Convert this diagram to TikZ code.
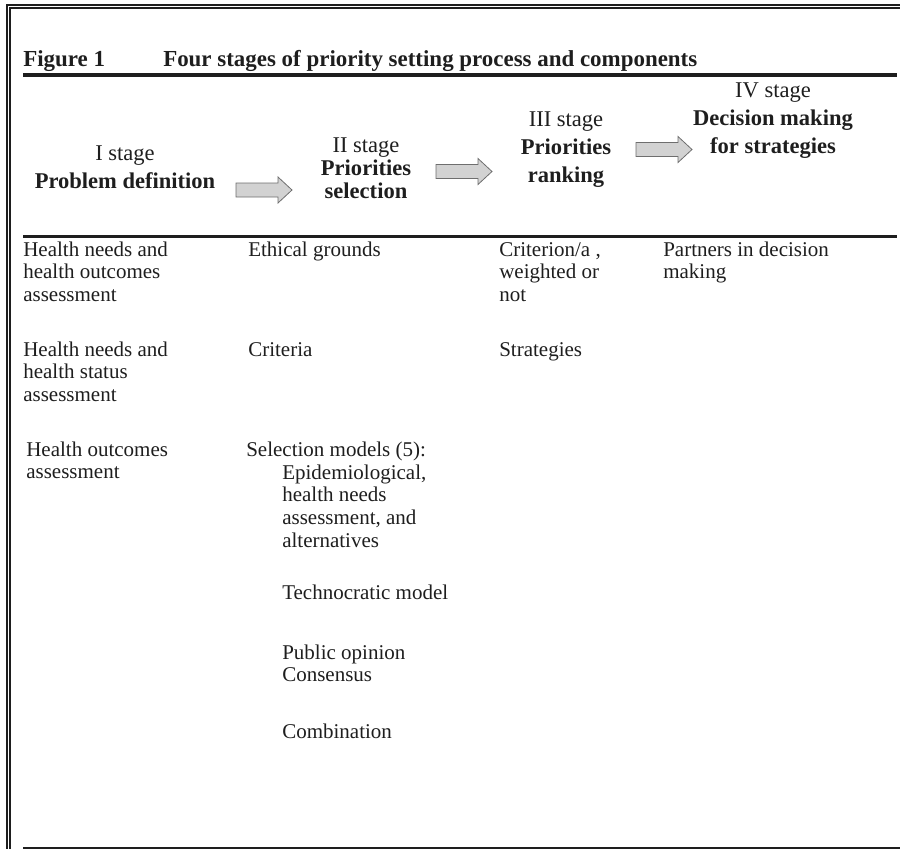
\documentclass[tikz,border=0pt]{standalone}
\usepackage{fontspec}
\setmainfont{Liberation Serif}
\definecolor{ink}{HTML}{1E1E1E}
\definecolor{arrowfill}{HTML}{D2D2D2}
\definecolor{arrowline}{HTML}{6E6E6E}
\begin{document}
% multi-line nodes are placed by the baseline of their last line
\begin{tikzpicture}[x=0.75pt,y=-0.75pt,
  frameline/.style={draw=ink, line width=1.3pt},
  titlerule/.style={draw=ink, line width=3pt},
  headrule/.style={draw=ink, line width=2.2pt},
  footrule/.style={draw=ink, line width=1.1pt},
  titletext/.style={font=\fontsize{17.2pt}{20pt}\selectfont\bfseries, text=ink, inner sep=0pt, anchor=base west},
  stagehead/.style={font=\fontsize{16.9pt}{21pt}\selectfont, text=ink, align=center, inner sep=0pt, anchor=base},
  cell/.style={font=\fontsize{15.75pt}{17pt}\selectfont, text=ink, align=left, inner sep=0pt, anchor=base west},
  blockarrow/.style={draw=arrowline, fill=arrowfill, line width=0.6pt, line join=miter}]
\useasboundingbox (0,0) rectangle (900,849);

% double frame along the top and the left edge
\draw[frameline] (900,4.8) -- (7,4.8) -- (7,849);
\draw[frameline, line width=1.1pt] (900,7.8) -- (10.2,7.8) -- (10.2,849);

% title
\node[titletext] (fig) at (23,66.5) {Figure 1};
\node[titletext] (caption) at (163,66.5) {Four stages of priority setting process and components};
\draw[titlerule] (23,74.7) -- (897,74.7);

% stage headings
\node[stagehead] (s1) at (125,188) {I stage\\\textbf{Problem definition}};
\node[stagehead, font=\fontsize{16.9pt}{17.25pt}\selectfont] (s2) at (366,198) {II stage\\\textbf{Priorities}\\\textbf{selection}};
\node[stagehead] (s3) at (566,182) {III stage\\\textbf{Priorities}\\\textbf{ranking}};
\node[stagehead] (s4) at (773,153) {IV stage\\\textbf{Decision making}\\\textbf{for strategies}};

% block arrows between the stages
\draw[blockarrow] (236,183) -- (278,183) -- (278,177) -- (292,190) -- (278,203) -- (278,197) -- (236,197) -- cycle;
\draw[blockarrow] (436,164.5) -- (478,164.5) -- (478,158.5) -- (492,171.5) -- (478,184.5) -- (478,178.5) -- (436,178.5) -- cycle;
\draw[blockarrow] (636,142.5) -- (678,142.5) -- (678,136.5) -- (692,149.5) -- (678,162.5) -- (678,156.5) -- (636,156.5) -- cycle;

\draw[headrule] (23,236.5) -- (897,236.5);

% stage I components
\node[cell] (c1a) at (23,301.4) {Health needs and\\health outcomes\\assessment};
\node[cell] (c1b) at (23,401.4) {Health needs and\\health status\\assessment};
\node[cell] (c1c) at (26,478.7) {Health outcomes\\assessment};

% stage II components
\node[cell] (c2a) at (248,256) {Ethical grounds};
\node[cell] (c2b) at (248,356) {Criteria};
\node[cell] (c2c) at (246,456) {Selection models (5):};
\node[cell] (c2d) at (282,547.1) {Epidemiological,\\health needs\\assessment, and\\alternatives};
\node[cell] (c2e) at (282,599) {Technocratic model};
\node[cell] (c2f) at (282,681.7) {Public opinion\\Consensus};
\node[cell] (c2g) at (282,738) {Combination};

% stage III components
\node[cell] (c3a) at (499,301.4) {Criterion/a ,\\weighted or\\not};
\node[cell] (c3b) at (499,356) {Strategies};

% stage IV components
\node[cell] (c4a) at (663,278.7) {Partners in decision\\making};

\draw[footrule] (23,848) -- (900,848);
\end{tikzpicture}
\end{document}
